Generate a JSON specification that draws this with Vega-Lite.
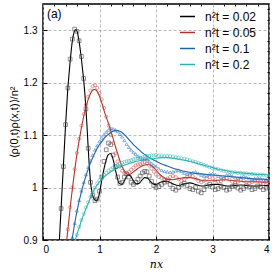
{
  "$schema": "https://vega.github.io/schema/vega-lite/v6.json",
  "autosize": "none",
  "width": 226,
  "height": 236,
  "padding": {"left": 43, "top": 4, "right": 5, "bottom": 34},
  "config": {
    "view": {"stroke": "black", "strokeWidth": 1.5},
    "font": "Liberation Sans",
    "axis": {"domain": false, "labelFont": "Liberation Sans", "labelFontSize": 10, "labelColor": "black", "tickColor": "black", "gridColor": "#aaaaaa", "gridDash": [3, 2], "gridWidth": 0.8}
  },
  "datasets": {
    "th": [
      {"x":0.26,"a":0.84,"b":null,"c":null,"d":null},
      {"x":0.28,"a":0.88,"b":null,"c":null,"d":null},
      {"x":0.30,"a":0.92,"b":null,"c":null,"d":null},
      {"x":0.32,"a":0.96,"b":null,"c":null,"d":null},
      {"x":0.34,"a":1.0,"b":null,"c":null,"d":null},
      {"x":0.36,"a":1.04,"b":null,"c":null,"d":null},
      {"x":0.38,"a":1.08,"b":0.86,"c":null,"d":null},
      {"x":0.40,"a":1.12,"b":0.88,"c":null,"d":null},
      {"x":0.42,"a":1.155,"b":0.90,"c":null,"d":null},
      {"x":0.44,"a":1.19,"b":0.92,"c":null,"d":null},
      {"x":0.46,"a":1.215,"b":0.94,"c":0.86,"d":null},
      {"x":0.48,"a":1.24,"b":0.96,"c":0.875,"d":null},
      {"x":0.50,"a":1.262,"b":0.98,"c":0.89,"d":null},
      {"x":0.52,"a":1.28,"b":0.997,"c":0.905,"d":0.88},
      {"x":0.54,"a":1.292,"b":1.015,"c":0.918,"d":0.888},
      {"x":0.56,"a":1.299,"b":1.032,"c":0.931,"d":0.895},
      {"x":0.58,"a":1.301,"b":1.048,"c":0.943,"d":0.903},
      {"x":0.60,"a":1.299,"b":1.063,"c":0.954,"d":0.91},
      {"x":0.62,"a":1.29,"b":1.077,"c":0.964,"d":0.917},
      {"x":0.64,"a":1.278,"b":1.09,"c":0.974,"d":0.924},
      {"x":0.66,"a":1.262,"b":1.102,"c":0.983,"d":0.93},
      {"x":0.68,"a":1.245,"b":1.114,"c":0.992,"d":0.937},
      {"x":0.70,"a":1.225,"b":1.125,"c":1.0,"d":0.943},
      {"x":0.72,"a":1.205,"b":1.135,"c":1.008,"d":0.948},
      {"x":0.74,"a":1.18,"b":1.145,"c":1.015,"d":0.954},
      {"x":0.76,"a":1.15,"b":1.153,"c":1.022,"d":0.96},
      {"x":0.78,"a":1.115,"b":1.161,"c":1.029,"d":0.965},
      {"x":0.80,"a":1.075,"b":1.168,"c":1.035,"d":0.97},
      {"x":0.82,"a":1.04,"b":1.174,"c":1.041,"d":0.975},
      {"x":0.84,"a":1.012,"b":1.179,"c":1.047,"d":0.98},
      {"x":0.86,"a":0.995,"b":1.183,"c":1.052,"d":0.985},
      {"x":0.88,"a":0.985,"b":1.186,"c":1.057,"d":0.99},
      {"x":0.90,"a":0.979,"b":1.187,"c":1.062,"d":0.995},
      {"x":0.92,"a":0.976,"b":1.187,"c":1.066,"d":0.999},
      {"x":0.94,"a":0.975,"b":1.186,"c":1.071,"d":1.002},
      {"x":0.96,"a":0.976,"b":1.183,"c":1.075,"d":1.005},
      {"x":0.98,"a":0.981,"b":1.179,"c":1.079,"d":1.008},
      {"x":1.00,"a":0.99,"b":1.174,"c":1.082,"d":1.011},
      {"x":1.05,"a":1.02,"b":1.158,"c":1.089,"d":1.017},
      {"x":1.10,"a":1.045,"b":1.14,"c":1.096,"d":1.022},
      {"x":1.15,"a":1.062,"b":1.125,"c":1.101,"d":1.026},
      {"x":1.20,"a":1.065,"b":1.108,"c":1.105,"d":1.03},
      {"x":1.25,"a":1.05,"b":1.09,"c":1.108,"d":1.033},
      {"x":1.30,"a":1.025,"b":1.072,"c":1.109,"d":1.036},
      {"x":1.35,"a":1.008,"b":1.055,"c":1.108,"d":1.039},
      {"x":1.40,"a":1.006,"b":1.04,"c":1.105,"d":1.041},
      {"x":1.45,"a":1.015,"b":1.03,"c":1.1,"d":1.043},
      {"x":1.50,"a":1.024,"b":1.025,"c":1.094,"d":1.045},
      {"x":1.55,"a":1.022,"b":1.026,"c":1.088,"d":1.047},
      {"x":1.60,"a":1.013,"b":1.03,"c":1.082,"d":1.048},
      {"x":1.65,"a":1.007,"b":1.034,"c":1.077,"d":1.05},
      {"x":1.70,"a":1.008,"b":1.038,"c":1.072,"d":1.051},
      {"x":1.75,"a":1.014,"b":1.041,"c":1.067,"d":1.052},
      {"x":1.80,"a":1.019,"b":1.043,"c":1.063,"d":1.053},
      {"x":1.85,"a":1.018,"b":1.044,"c":1.059,"d":1.054},
      {"x":1.90,"a":1.012,"b":1.043,"c":1.056,"d":1.055},
      {"x":1.95,"a":1.007,"b":1.039,"c":1.053,"d":1.055},
      {"x":2.00,"a":1.006,"b":1.033,"c":1.05,"d":1.056},
      {"x":2.1,"a":1.011,"b":1.022,"c":1.045,"d":1.057},
      {"x":2.2,"a":1.012,"b":1.016,"c":1.041,"d":1.057},
      {"x":2.3,"a":1.007,"b":1.015,"c":1.037,"d":1.056},
      {"x":2.4,"a":1.004,"b":1.017,"c":1.034,"d":1.054},
      {"x":2.5,"a":1.007,"b":1.019,"c":1.031,"d":1.052},
      {"x":2.6,"a":1.009,"b":1.019,"c":1.029,"d":1.05},
      {"x":2.7,"a":1.006,"b":1.017,"c":1.027,"d":1.047},
      {"x":2.8,"a":1.003,"b":1.014,"c":1.026,"d":1.044},
      {"x":2.9,"a":1.004,"b":1.013,"c":1.025,"d":1.041},
      {"x":3.0,"a":1.006,"b":1.013,"c":1.024,"d":1.038},
      {"x":3.1,"a":1.006,"b":1.014,"c":1.023,"d":1.035},
      {"x":3.2,"a":1.004,"b":1.015,"c":1.022,"d":1.033},
      {"x":3.3,"a":1.003,"b":1.014,"c":1.021,"d":1.031},
      {"x":3.4,"a":1.004,"b":1.013,"c":1.02,"d":1.029},
      {"x":3.5,"a":1.005,"b":1.012,"c":1.019,"d":1.028},
      {"x":3.6,"a":1.004,"b":1.011,"c":1.018,"d":1.027},
      {"x":3.7,"a":1.003,"b":1.011,"c":1.017,"d":1.026},
      {"x":3.8,"a":1.003,"b":1.011,"c":1.016,"d":1.025},
      {"x":3.9,"a":1.004,"b":1.01,"c":1.016,"d":1.025},
      {"x":4.0,"a":1.004,"b":1.01,"c":1.015,"d":1.024}
    ],
    "sim": [
      {"x":0.28,"a":0.88,"b":null,"c":null,"d":null},
      {"x":0.32,"a":0.96,"b":null,"c":null,"d":null},
      {"x":0.36,"a":1.04,"b":null,"c":null,"d":null},
      {"x":0.40,"a":1.12,"b":0.88,"c":null,"d":null},
      {"x":0.44,"a":1.19,"b":0.92,"c":null,"d":null},
      {"x":0.48,"a":1.245,"b":0.962,"c":null,"d":null},
      {"x":0.52,"a":1.283,"b":1.0,"c":0.905,"d":null},
      {"x":0.56,"a":1.302,"b":1.035,"c":0.932,"d":0.895},
      {"x":0.60,"a":1.298,"b":1.066,"c":0.956,"d":0.91},
      {"x":0.64,"a":1.28,"b":1.093,"c":0.976,"d":0.925},
      {"x":0.68,"a":1.25,"b":1.118,"c":0.994,"d":0.938},
      {"x":0.72,"a":1.208,"b":1.14,"c":1.01,"d":0.95},
      {"x":0.76,"a":1.15,"b":1.158,"c":1.025,"d":0.962},
      {"x":0.80,"a":1.075,"b":1.173,"c":1.039,"d":0.972},
      {"x":0.84,"a":1.01,"b":1.185,"c":1.051,"d":0.982},
      {"x":0.88,"a":0.985,"b":1.193,"c":1.062,"d":0.992},
      {"x":0.92,"a":0.975,"b":1.195,"c":1.072,"d":1.0},
      {"x":0.96,"a":0.978,"b":1.19,"c":1.08,"d":1.008},
      {"x":1.00,"a":0.993,"b":1.18,"c":1.088,"d":1.014},
      {"x":1.04,"a":1.02,"b":1.168,"c":1.095,"d":1.019},
      {"x":1.08,"a":1.05,"b":1.152,"c":1.101,"d":1.024},
      {"x":1.12,"a":1.072,"b":1.135,"c":1.106,"d":1.028},
      {"x":1.16,"a":1.085,"b":1.118,"c":1.11,"d":1.032},
      {"x":1.20,"a":1.082,"b":1.1,"c":1.113,"d":1.035},
      {"x":1.24,"a":1.062,"b":1.085,"c":1.112,"d":1.038},
      {"x":1.28,"a":1.04,"b":1.065,"c":1.11,"d":1.041},
      {"x":1.32,"a":1.02,"b":1.05,"c":1.107,"d":1.043},
      {"x":1.36,"a":1.008,"b":1.04,"c":1.102,"d":1.045},
      {"x":1.40,"a":1.01,"b":1.032,"c":1.097,"d":1.047},
      {"x":1.44,"a":1.02,"b":1.028,"c":1.09,"d":1.049},
      {"x":1.48,"a":1.026,"b":1.028,"c":1.083,"d":1.05},
      {"x":1.52,"a":1.02,"b":1.03,"c":1.077,"d":1.051},
      {"x":1.56,"a":1.01,"b":1.034,"c":1.072,"d":1.052},
      {"x":1.60,"a":1.006,"b":1.038,"c":1.067,"d":1.054},
      {"x":1.64,"a":1.01,"b":1.042,"c":1.064,"d":1.055},
      {"x":1.68,"a":1.016,"b":1.044,"c":1.06,"d":1.056},
      {"x":1.72,"a":1.022,"b":1.045,"c":1.057,"d":1.057},
      {"x":1.76,"a":1.028,"b":1.047,"c":1.055,"d":1.058},
      {"x":1.80,"a":1.031,"b":1.048,"c":1.055,"d":1.059},
      {"x":1.84,"a":1.03,"b":1.046,"c":1.054,"d":1.06},
      {"x":1.88,"a":1.022,"b":1.042,"c":1.05,"d":1.06},
      {"x":1.92,"a":1.012,"b":1.036,"c":1.046,"d":1.061},
      {"x":1.96,"a":1.004,"b":1.03,"c":1.043,"d":1.061},
      {"x":2.00,"a":1.0,"b":1.025,"c":1.04,"d":1.062},
      {"x":2.05,"a":1.002,"b":1.02,"c":1.036,"d":1.061},
      {"x":2.10,"a":1.006,"b":1.018,"c":1.033,"d":1.061},
      {"x":2.15,"a":1.01,"b":1.016,"c":1.031,"d":1.06},
      {"x":2.20,"a":1.012,"b":1.017,"c":1.03,"d":1.06},
      {"x":2.25,"a":1.006,"b":1.02,"c":1.029,"d":1.06},
      {"x":2.30,"a":0.998,"b":1.022,"c":1.03,"d":1.059},
      {"x":2.35,"a":0.995,"b":1.02,"c":1.032,"d":1.058},
      {"x":2.40,"a":1.0,"b":1.016,"c":1.033,"d":1.057},
      {"x":2.45,"a":1.005,"b":1.013,"c":1.031,"d":1.056},
      {"x":2.50,"a":1.008,"b":1.015,"c":1.028,"d":1.055},
      {"x":2.55,"a":1.004,"b":1.02,"c":1.026,"d":1.054},
      {"x":2.60,"a":0.998,"b":1.024,"c":1.027,"d":1.052},
      {"x":2.65,"a":0.996,"b":1.022,"c":1.029,"d":1.05},
      {"x":2.70,"a":1.0,"b":1.017,"c":1.03,"d":1.049},
      {"x":2.75,"a":0.993,"b":1.012,"c":1.027,"d":1.047},
      {"x":2.80,"a":0.99,"b":1.01,"c":1.024,"d":1.045},
      {"x":2.85,"a":0.996,"b":1.013,"c":1.022,"d":1.043},
      {"x":2.90,"a":1.003,"b":1.017,"c":1.023,"d":1.041},
      {"x":2.95,"a":1.006,"b":1.02,"c":1.026,"d":1.039},
      {"x":3.00,"a":1.001,"b":1.018,"c":1.027,"d":1.037},
      {"x":3.05,"a":0.996,"b":1.014,"c":1.025,"d":1.036},
      {"x":3.10,"a":0.998,"b":1.011,"c":1.022,"d":1.035},
      {"x":3.15,"a":1.003,"b":1.012,"c":1.02,"d":1.033},
      {"x":3.20,"a":1.0,"b":1.016,"c":1.021,"d":1.032},
      {"x":3.25,"a":0.995,"b":1.018,"c":1.024,"d":1.031},
      {"x":3.30,"a":0.997,"b":1.015,"c":1.025,"d":1.03},
      {"x":3.35,"a":1.002,"b":1.011,"c":1.022,"d":1.029},
      {"x":3.40,"a":1.004,"b":1.009,"c":1.019,"d":1.029},
      {"x":3.45,"a":0.999,"b":1.011,"c":1.018,"d":1.028},
      {"x":3.50,"a":0.995,"b":1.014,"c":1.02,"d":1.028},
      {"x":3.55,"a":0.998,"b":1.013,"c":1.022,"d":1.027},
      {"x":3.60,"a":1.003,"b":1.01,"c":1.02,"d":1.027},
      {"x":3.65,"a":1.001,"b":1.008,"c":1.017,"d":1.026},
      {"x":3.70,"a":0.996,"b":1.01,"c":1.015,"d":1.026},
      {"x":3.75,"a":0.998,"b":1.013,"c":1.017,"d":1.025},
      {"x":3.80,"a":1.003,"b":1.012,"c":1.019,"d":1.025},
      {"x":3.85,"a":1.001,"b":1.009,"c":1.017,"d":1.024},
      {"x":3.90,"a":0.996,"b":1.007,"c":1.014,"d":1.024},
      {"x":3.95,"a":0.999,"b":1.01,"c":1.015,"d":1.023},
      {"x":4.00,"a":1.002,"b":1.012,"c":1.016,"d":1.023}
    ],
    "lab": [{"x": 0.07, "y": 1.331, "t": "(a)"}]
  },
  "layer": [
    {
      "data": {"name": "th"},
      "transform": [{"fold": ["a", "b", "c", "d"], "as": ["s", "y"]}, {"filter": "isValid(datum.y)"}],
      "mark": {"type": "line", "clip": true, "strokeWidth": 1.1, "interpolate": "monotone"},
      "encoding": {
        "x": {"field": "x", "type": "quantitative", "scale": {"domain": [0, 4], "nice": false},
          "axis": {"values": [0, 1, 2, 3, 4], "grid": true, "tickSize": -4, "labelPadding": 8, "title": "nx", "titleFont": "DejaVu Serif", "titleFontStyle": "italic", "titleFontWeight": "normal", "titleFontSize": 11, "titlePadding": 4}},
        "y": {"field": "y", "type": "quantitative", "scale": {"domain": [0.9, 1.35], "nice": false, "zero": false},
          "axis": {"values": [0.9, 1, 1.1, 1.2, 1.3], "format": "~g", "grid": true, "tickSize": -4, "labelPadding": 10, "title": "⟨ρ(0,t)ρ(x,t)⟩/n²", "titleFont": "Liberation Sans", "titleFontWeight": "normal", "titleFontSize": 11, "titlePadding": 4}},
        "color": {"field": "s", "type": "nominal",
          "scale": {"domain": ["a", "b", "c", "d"], "range": ["#000000", "#b5302a", "#1f63a8", "#2bb3b3"]},
          "legend": {"orient": "none", "legendX": 136, "legendY": 4, "title": null, "symbolType": "stroke", "symbolSize": 225, "symbolStrokeWidth": 1.5, "labelFontSize": 12, "labelFont": "Liberation Sans", "labelOffset": 9, "rowPadding": 1,
            "labelExpr": "datum.label == 'a' ? 'n²t = 0.02' : datum.label == 'b' ? 'n²t = 0.05' : datum.label == 'c' ? 'n²t = 0.1' : 'n²t = 0.2'"}}
      }
    },
    {
      "data": {"name": "sim"},
      "transform": [{"filter": "isValid(datum.a)"}],
      "mark": {"type": "point", "clip": true, "filled": false, "strokeWidth": 0.8, "shape": "square", "size": 14, "stroke": "#3a3a3a"},
      "encoding": {
        "x": {"field": "x", "type": "quantitative", "scale": {"domain": [0, 4], "nice": false},
          "axis": {"values": [0.2, 0.4, 0.6, 0.8, 1.2, 1.4, 1.6, 1.8, 2.2, 2.4, 2.6, 2.8, 3.2, 3.4, 3.6, 3.8], "grid": false, "labels": false, "tickSize": -2, "title": null}},
        "y": {"field": "a", "type": "quantitative", "scale": {"domain": [0.9, 1.35], "nice": false, "zero": false},
          "axis": {"values": [0.92, 0.94, 0.96, 0.98, 1.02, 1.04, 1.06, 1.08, 1.12, 1.14, 1.16, 1.18, 1.22, 1.24, 1.26, 1.28, 1.32, 1.34], "grid": false, "labels": false, "tickSize": -2, "title": null}}
      }
    },
    {
      "data": {"name": "sim"},
      "transform": [{"filter": "isValid(datum.b)"}],
      "mark": {"type": "point", "clip": true, "filled": false, "strokeWidth": 0.8, "shape": "circle", "size": 10, "stroke": "#d0504a"},
      "encoding": {
        "x": {"field": "x", "type": "quantitative", "scale": {"domain": [0, 4], "nice": false}, "axis": null},
        "y": {"field": "b", "type": "quantitative", "scale": {"domain": [0.9, 1.35], "nice": false, "zero": false}, "axis": null}
      }
    },
    {
      "data": {"name": "sim"},
      "transform": [{"filter": "isValid(datum.c)"}],
      "mark": {"type": "point", "clip": true, "filled": false, "strokeWidth": 0.8, "shape": "triangle-up", "size": 10, "stroke": "#2f75c0"},
      "encoding": {
        "x": {"field": "x", "type": "quantitative", "scale": {"domain": [0, 4], "nice": false}, "axis": null},
        "y": {"field": "c", "type": "quantitative", "scale": {"domain": [0.9, 1.35], "nice": false, "zero": false}, "axis": null}
      }
    },
    {
      "data": {"name": "sim"},
      "transform": [{"filter": "isValid(datum.d)"}],
      "mark": {"type": "point", "clip": true, "filled": false, "strokeWidth": 0.8, "shape": "circle", "size": 10, "stroke": "#3ab8b8"},
      "encoding": {
        "x": {"field": "x", "type": "quantitative", "scale": {"domain": [0, 4], "nice": false}, "axis": null},
        "y": {"field": "d", "type": "quantitative", "scale": {"domain": [0.9, 1.35], "nice": false, "zero": false}, "axis": null}
      }
    },
    {
      "data": {"name": "lab"},
      "mark": {"type": "text", "align": "left", "baseline": "middle", "fontSize": 12, "font": "Liberation Sans"},
      "encoding": {
        "x": {"field": "x", "type": "quantitative", "axis": null},
        "y": {"field": "y", "type": "quantitative", "axis": null},
        "text": {"field": "t"}
      }
    }
  ],
  "resolve": {"axis": {"x": "independent", "y": "independent"}}
}
